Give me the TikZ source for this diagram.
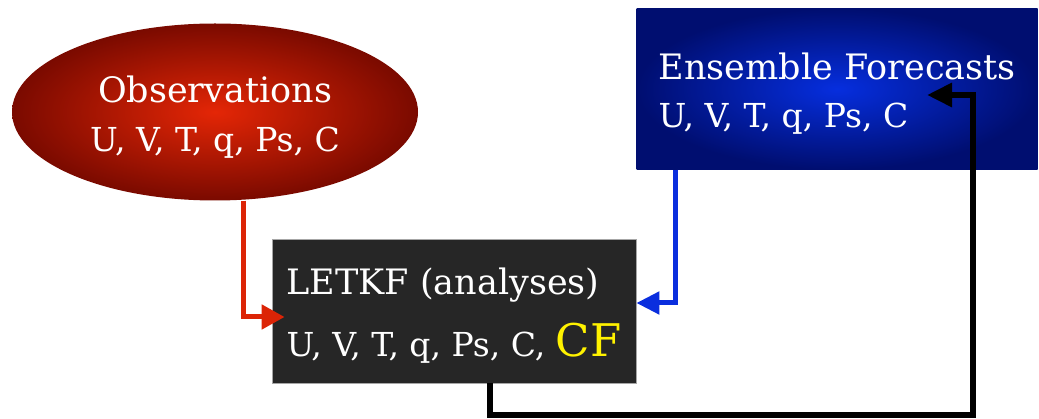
\documentclass[tikz,border=0pt]{standalone}
\usepackage{fontspec}
\setmainfont{DejaVu Serif}
\usepackage{tikz}
\usetikzlibrary{positioning, shapes.geometric, arrows.meta}
\definecolor{obsInner}{RGB}{228,38,6}
\definecolor{obsOuter}{RGB}{122,10,0}
\definecolor{fcInner}{RGB}{6,46,222}
\definecolor{fcOuter}{RGB}{0,14,112}
\definecolor{anaFill}{RGB}{38,38,38}
\definecolor{obsLine}{RGB}{220,36,6}
\definecolor{fcLine}{RGB}{10,46,222}
\tikzset{ObsVertex/.style={%
    shape=ellipse,%
    inner color=obsInner,%
    outer color=obsOuter,%
    text=white,%
    minimum width=406pt,%
    minimum height=177pt,%
    inner sep=0pt,%
    align=center,%
    font=\fontsize{35}{49}\selectfont,%
}}
\tikzset{ForecastVertex/.style={%
    shape=rectangle,%
    inner color=fcInner,%
    outer color=fcOuter,%
    text=white,%
    minimum width=401pt,%
    minimum height=161pt,%
    inner sep=0pt,%
    align=left,%
    font=\fontsize{35}{48}\selectfont,%
}}
\tikzset{AnalysisVertex/.style={%
    shape=rectangle,%
    draw=gray!70,%
    fill=anaFill,%
    text=white,%
    line width=0.8pt,%
    minimum width=364pt,%
    minimum height=144pt,%
    inner sep=0pt,%
    align=left,%
    font=\fontsize{35}{49}\selectfont,%
}}
\tikzset{ObsEdge/.style={%
    -{Triangle[length=23pt,width=24pt]},%
    draw=obsLine,%
    line width=5pt,%
    shorten >=-13pt,%
}}
\tikzset{ForecastEdge/.style={%
    -{Triangle[length=23pt,width=22pt]},%
    draw=fcLine,%
    line width=5pt,%
}}
\tikzset{CycleEdge/.style={%
    -{Triangle[length=25pt,width=23pt]},%
    draw=black,%
    line width=6pt,%
}}
\newcommand{\lineStrut}{\rule{0pt}{36pt}}
\NewDocumentCommand{\varList}{s}{%
    \IfBooleanTF{#1}{%
        {\fontsize{33}{49}\selectfont U, V, T, q, Ps, C, }{\fontsize{45}{49}\selectfont\color{yellow}CF}%
    }{%
        {\fontsize{33}{48}\selectfont U, V, T, q, Ps, C}%
    }%
}

\begin{document}
\begin{tikzpicture}[x=1pt, y=-1pt]
    \useasboundingbox (0,0) rectangle (1039,419);

    \node[ObsVertex] (obs) at (215,112) {\lineStrut Observations\\\varList};
    \node[AnalysisVertex] (letkf) at (454,311) {\lineStrut LETKF (analyses)\\[13pt]\varList*};
    \node[ForecastVertex, above=69pt of letkf.north east, anchor=south west] (ens) {\lineStrut Ensemble Forecasts\\\varList};

    \coordinate (loopcorner) at (973,415);
    \coordinate (ensentry) at (927,95);

    \draw[ObsEdge] ([xshift=28pt]obs.south) |- ([yshift=-6pt]letkf.west);
    \draw[ForecastEdge] ([xshift=39pt]ens.south west) |- ([yshift=8pt]letkf.east);
    \draw[CycleEdge] ([xshift=36pt]letkf.south) |- (loopcorner) |- (ensentry);
\end{tikzpicture}
\end{document}
